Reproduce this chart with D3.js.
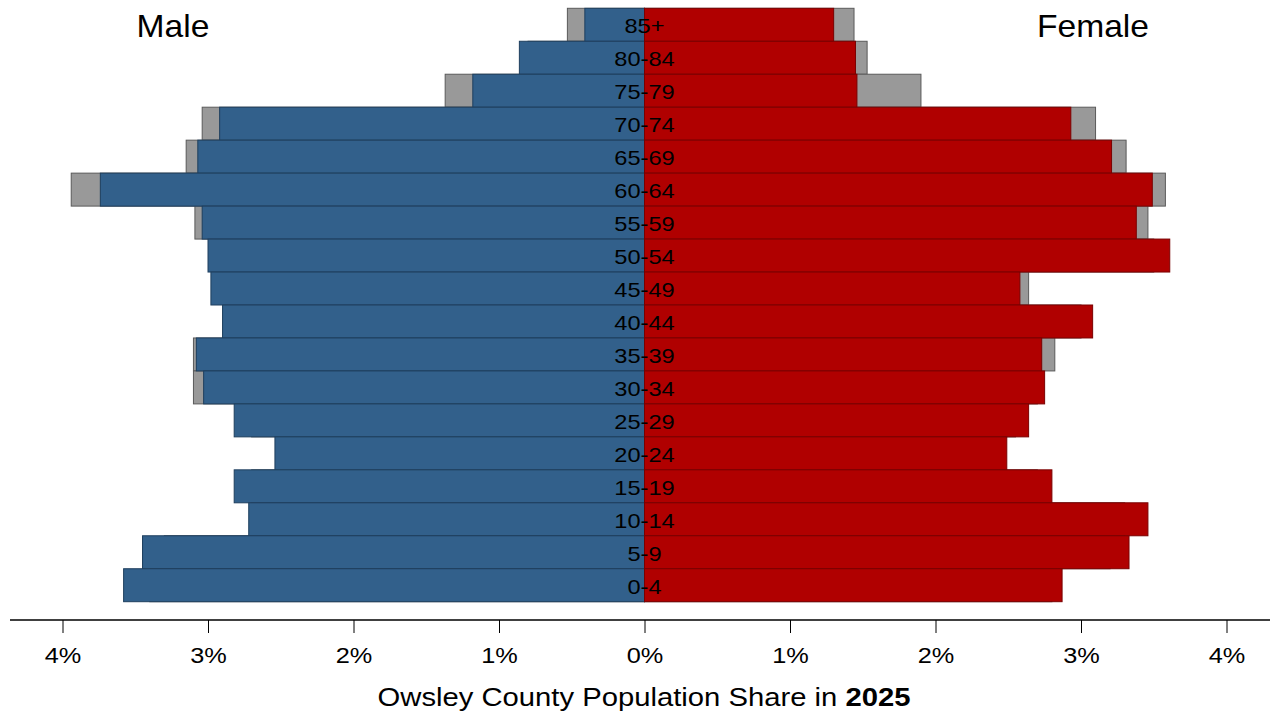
<!DOCTYPE html>
<html><head><meta charset="utf-8">
<script src="https://cdn.jsdelivr.net/npm/d3@7"></script>
<style>body{margin:0;background:#fff}svg{display:block;font-family:"Liberation Sans",Arial,sans-serif}</style>
</head><body><svg id="c" width="1281" height="717"></svg>
<script>
const ageGroups = ["85+","80-84","75-79","70-74","65-69","60-64","55-59","50-54","45-49","40-44","35-39","30-34","25-29","20-24","15-19","10-14","5-9","0-4"];
const male2025   = [0.41,0.86,1.18,2.92,3.07,3.74,3.04,3.00,2.98,2.90,3.08,3.03,2.82,2.54,2.82,2.72,3.45,3.58];
const maleGray   = [0.53,0.80,1.37,3.04,3.15,3.94,3.09,2.95,2.90,2.85,3.10,3.10,2.70,2.40,2.70,2.60,3.30,3.40];
const female2025 = [1.30,1.45,1.46,2.93,3.21,3.49,3.38,3.61,2.58,3.08,2.73,2.75,2.64,2.49,2.80,3.46,3.33,2.87];
const femaleGray = [1.44,1.53,1.90,3.10,3.31,3.58,3.46,3.50,2.64,3.00,2.82,2.70,2.55,2.40,2.70,3.30,3.20,2.80];
const tickValues = [-4,-3,-2,-1,0,1,2,3,4];

const svg = d3.select("#c");
const x = d3.scaleLinear().domain([-4, 4]).range([62.5, 1226.5]);
const y = d3.scaleBand().domain(ageGroups).range([8.3, 601.7]).padding(0);

const blue = "#32608b", blueStroke = "#1e3f5e";
const red = "#b00000", redStroke = "#7a0000";
const gray = "#999999", grayStroke = "#5a5a5a";

const g = svg.append("g");
g.selectAll(".mg").data(ageGroups).join("rect")
  .attr("x", (d,i) => x(-maleGray[i])).attr("y", d => y(d))
  .attr("width", (d,i) => x(0) - x(-maleGray[i])).attr("height", y.bandwidth())
  .attr("fill", gray).attr("stroke", grayStroke).attr("stroke-width", 1);
g.selectAll(".fg").data(ageGroups).join("rect")
  .attr("x", x(0)).attr("y", d => y(d))
  .attr("width", (d,i) => x(femaleGray[i]) - x(0)).attr("height", y.bandwidth())
  .attr("fill", gray).attr("stroke", grayStroke).attr("stroke-width", 1);
g.selectAll(".m").data(ageGroups).join("rect")
  .attr("x", (d,i) => x(-male2025[i])).attr("y", d => y(d))
  .attr("width", (d,i) => x(0) - x(-male2025[i])).attr("height", y.bandwidth())
  .attr("fill", blue).attr("stroke", blueStroke).attr("stroke-width", 1);
g.selectAll(".f").data(ageGroups).join("rect")
  .attr("x", x(0)).attr("y", d => y(d))
  .attr("width", (d,i) => x(female2025[i]) - x(0)).attr("height", y.bandwidth())
  .attr("fill", red).attr("stroke", redStroke).attr("stroke-width", 1);

// age labels (text in the reference is slightly wide)
svg.append("g").selectAll("text").data(ageGroups).join("text")
  .attr("transform", d => `translate(${x(0)},${y(d) + y.bandwidth()/2 + 1.5}) scale(1.18,1)`)
  .attr("text-anchor", "middle").attr("dominant-baseline", "central")
  .attr("font-size", 20).attr("fill", "#000").text(d => d);

// axis
const axis = d3.axisBottom(x).tickValues(tickValues).tickSize(13).tickPadding(14)
  .tickFormat(d => Math.abs(d) + "%");
const ax = svg.append("g").attr("transform", "translate(0,620)").call(axis);
ax.select(".domain").remove();
ax.append("line").attr("x1", 10).attr("x2", 1270).attr("y1", 0).attr("y2", 0)
  .attr("stroke", "#000").attr("stroke-width", 1.5);
ax.selectAll(".tick line").attr("stroke", "#000").attr("stroke-width", 1);
ax.selectAll(".tick text").attr("font-size", 22).attr("fill", "#000")
  .attr("transform", "scale(1.15,1)")
  .style("font-family", "'Liberation Sans', Arial, sans-serif");

// titles
svg.append("text").attr("transform", "translate(173,37) scale(1.05,1)").attr("text-anchor", "middle")
  .attr("font-size", 32).attr("fill", "#000").text("Male");
svg.append("text").attr("transform", "translate(1093,37) scale(1.05,1)").attr("text-anchor", "middle")
  .attr("font-size", 32).attr("fill", "#000").text("Female");
const t = svg.append("text").attr("transform", "translate(644,706) scale(1.17,1)").attr("text-anchor", "middle")
  .attr("font-size", 25).attr("fill", "#000");
t.append("tspan").text("Owsley County Population Share in ");
t.append("tspan").attr("font-weight", "bold").text("2025");
</script></body></html>
